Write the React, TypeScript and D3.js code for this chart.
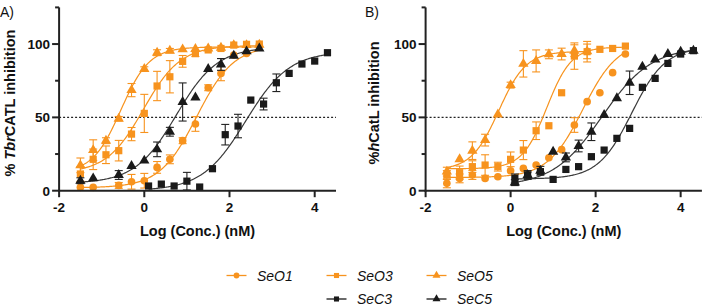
import React from "react";
import * as d3 from "d3";

const ORANGE = "#F7931E";
const BLACK = "#1a1a1a";

// concentrations (log nM)
const xOrange = [-1.5, -1.2, -0.9, -0.6, -0.3, 0, 0.3, 0.6, 0.9, 1.2, 1.5, 1.8, 2.1, 2.4, 2.7];
const xOrangeGap = [-1.5, -1.2, -0.6, -0.3, 0, 0.3, 0.6, 0.9, 1.2, 1.5, 1.8, 2.1, 2.4, 2.7];
const xOrangeShort = [-1.5, -1.2, -0.9, -0.6, -0.3, 0, 0.3, 0.6, 0.9, 1.2, 1.5, 1.8];
const xBlack = [0.1, 0.4, 0.7, 1.0, 1.3, 1.6, 1.9, 2.2, 2.5, 2.8, 3.1, 3.4, 3.7, 4.0, 4.3];

// Panel A (TbrCATL)
const aSeO1 = [2.3, 2.3, 3.6, 6.1, 6.8, 15.9, 21.4, 34.1, 45.5, 70.2, 80, 92.5, 93.6, 99.3];
const aSeO1Err = [1, 1, 2, 5, 5, 4, 3, 2, 5, 2, 5, 1, 1, 1];
const aSeO3 = [11.4, 21.4, 24.5, 27.3, 38.6, 52.7, 71.4, 77.7, 88.2, 93.5, 96, 97, 99.3, 99.8, 100];
const aSeO3Err = [5, 7, 6, 7, 4.5, 13, 10, 11, 4, 2, 1, 1, 1, 1, 1];
const aSeO5 = [17.3, 27.7, 34.1, 49.1, 68.6, 83, 94.1, 95.5, 96.4, 96.6, 97, 97.5, 99.3, 99.3, 99.5];
const aSeO5Err = [5, 7, 2, 1.5, 4.5, 1.5, 2, 1.5, 1, 1, 1, 1, 1, 1, 1];
const aSeC3 = [3.2, 4.5, 3.2, 6.5, 2.5, 15, 38.2, 44.1, 61.8, 59.1, 73.6, 80, 86.4, 88.4, 94.1];
const aSeC3Err = [0.5, 0.5, 0.5, 6, 0.5, 0.5, 7, 8, 0.5, 4, 6, 1, 1, 1, 1];
const aSeC5 = [6.8, 8.4, 10.7, 16.8, 20.5, 28.2, 40.2, 60.5, 63.6, 83, 86.1, 92, 95, 97];
const aSeC5Err = [2, 1, 3, 1, 1, 5, 3, 13, 1, 1, 4, 1, 1, 1];

// Panel B (hCatL)
const bSeO1 = [5, 8.4, 10.7, 8.4, 9.5, 13.6, 15.2, 17.5, 22.5, 28, 44.8, 60.7, 66.8, 80.5, 93.2];
const bSeO1Err = [3, 3, 3, 1, 1, 1, 1, 1, 1, 1, 5, 1, 1, 1, 1];
const bSeO3 = [10.7, 12.3, 16.4, 17.5, 16.4, 21.4, 27.7, 40.9, 44.3, 66.8, 91.8, 94.8, 96.4, 97, 98.6];
const bSeO3Err = [3, 4.5, 4, 7, 3, 5, 6.5, 6, 1, 1, 9, 7, 1, 1, 1];
const bSeO5 = [13, 21.4, 27.3, 34.5, 52, 72, 86.5, 88.5, 93, 93.2, 95.5, 95];
const bSeO5Err = [3, 1, 6, 4, 1, 2, 9, 7.5, 3, 4, 4, 5];
const bSeC3 = [8.4, 10.7, 13, 7.7, 14.5, 16.4, 23.2, 27.7, 35.7, 42.5, 70.5, 76.6, 86.8, 93.2, 95.5];
const bSeC3Err = [3, 2, 1, 1, 1, 1, 1, 1, 1, 1, 1, 1, 1, 1, 1];
const bSeC5 = [5.5, 10.7, 13.6, 26.6, 22.7, 30.5, 40.2, 51.6, 63, 73.6, 84.5, 89.5, 93.2, 94.8, 95.5];
const bSeC5Err = [2, 3, 3, 1, 3, 4, 6, 1, 1, 8, 1, 1, 1, 1, 1];

// 4PL fit parameters [bottom, top, logIC50, hill]
const aFitSeO1 = [2, 99, 1.23, 1.0];
const aFitSeO3 = [12, 99, -0.02, 1.0];
const aFitSeO5 = [12, 98, -0.55, 1.3];
const aFitSeC3 = [0, 95, 2.38, 0.85];
const aFitSeC5 = [5, 98, 0.75, 0.9];
const bFitSeO1 = [9, 102, 1.7, 1.05];
const bFitSeO3 = [15, 98, 0.85, 1.5];
const bFitSeO5 = [14, 95, -0.28, 1.35];
const bFitSeC3 = [8, 98, 2.85, 1.1];
const bFitSeC5 = [3, 98, 2.15, 0.75];

const xTicks = [-2, 0, 2, 4];
const yTicksMajor = [0, 50, 100];
const yTicksMinor = [25, 75, 125];

const legendNames = ["SeO1", "SeO3", "SeO5", "SeC3", "SeC5"];

type Shape = "circle" | "square" | "triangle";
type Series = { name: string; x: number[]; y: number[]; err: number[]; fit: number[]; color: string; shape: Shape };

const panelA: Series[] = [
  { name: "SeO1", x: xOrangeGap, y: aSeO1, err: aSeO1Err, fit: aFitSeO1, color: ORANGE, shape: "circle" },
  { name: "SeO3", x: xOrange, y: aSeO3, err: aSeO3Err, fit: aFitSeO3, color: ORANGE, shape: "square" },
  { name: "SeO5", x: xOrange, y: aSeO5, err: aSeO5Err, fit: aFitSeO5, color: ORANGE, shape: "triangle" },
  { name: "SeC3", x: xBlack, y: aSeC3, err: aSeC3Err, fit: aFitSeC3, color: BLACK, shape: "square" },
  { name: "SeC5", x: xOrangeGap, y: aSeC5, err: aSeC5Err, fit: aFitSeC5, color: BLACK, shape: "triangle" },
];
const panelB: Series[] = [
  { name: "SeO1", x: xOrange, y: bSeO1, err: bSeO1Err, fit: bFitSeO1, color: ORANGE, shape: "circle" },
  { name: "SeO3", x: xOrange, y: bSeO3, err: bSeO3Err, fit: bFitSeO3, color: ORANGE, shape: "square" },
  { name: "SeO5", x: xOrangeShort, y: bSeO5, err: bSeO5Err, fit: bFitSeO5, color: ORANGE, shape: "triangle" },
  { name: "SeC3", x: xBlack, y: bSeC3, err: bSeC3Err, fit: bFitSeC3, color: BLACK, shape: "square" },
  { name: "SeC5", x: xBlack, y: bSeC5, err: bSeC5Err, fit: bFitSeC5, color: BLACK, shape: "triangle" },
];

const FONT = "'Liberation Sans', Arial, Helvetica, sans-serif";

const symbolPath = (shape: Shape, size: number) => {
  const t = shape === "circle" ? d3.symbolCircle : shape === "square" ? d3.symbolSquare : d3.symbolTriangle;
  return d3.symbol().type(t).size(size)() as string;
};

const fourPL = (p: number[], x: number) => p[0] + (p[1] - p[0]) / (1 + Math.pow(10, (p[2] - x) * p[3]));

function Panel({ series, x0, x1, letter, letterX, labelX, yLabel }: any) {
  const xs = d3.scaleLinear().domain([-2, 4.5]).range([x0, x1]);
  const ys = d3.scaleLinear().domain([0, 125]).range([190.7, 7.4]);
  const line = d3.line<[number, number]>().x((d) => xs(d[0])).y((d) => ys(d[1]));
  const ax = xs(-2);
  const y0 = ys(0);
  return (
    <g fontFamily={FONT}>
      <text x={letterX} y={17} fontSize={14} fill="#111">{letter}</text>
      <line x1={ax} x2={xs(4.5)} y1={ys(50)} y2={ys(50)} stroke="#222" strokeWidth={1.4} strokeDasharray="2,2" />
      {series.map((s: Series) => {
        const lo = d3.min(s.x) as number;
        const hi = d3.max(s.x) as number;
        const pts: [number, number][] = d3.range(0, 201).map((i) => {
          const xv = lo + ((hi - lo) * i) / 200;
          return [xv, fourPL(s.fit, xv)];
        });
        return <path key={"c" + s.name} d={line(pts) as string} fill="none" stroke={s.color === BLACK ? "#3a3a3a" : s.color} strokeWidth={1.2} />;
      })}
      {series.map((s: Series) => (
        <g key={"p" + s.name}>
          {s.x.map((xv, i) => {
            const cx = xs(xv);
            const top = ys(s.y[i] + s.err[i]);
            const bot = ys(Math.max(0, s.y[i] - s.err[i]));
            const col = s.color === BLACK ? "#222" : s.color;
            return (
              <g key={i}>
                {s.err[i] >= 1.5 && (
                  <g stroke={col} strokeWidth={1.1}>
                    <line x1={cx} x2={cx} y1={top} y2={bot} />
                    <line x1={cx - 4} x2={cx + 4} y1={top} y2={top} />
                    <line x1={cx - 4} x2={cx + 4} y1={bot} y2={bot} />
                  </g>
                )}
                <path
                  d={symbolPath(s.shape, s.shape === "triangle" ? 46 : s.shape === "square" ? 52 : 46)}
                  transform={`translate(${cx},${ys(s.y[i])})`}
                  fill={s.color}
                />
              </g>
            );
          })}
        </g>
      ))}
      <line x1={ax} x2={ax} y1={y0 + 1} y2={ys(125)} stroke="#222" strokeWidth={2} />
      <line x1={ax - 1} x2={xs(4.5)} y1={y0} y2={y0} stroke="#222" strokeWidth={2} />
      {yTicksMajor.map((t) => (
        <g key={"ym" + t}>
          <line x1={ax - 7} x2={ax} y1={ys(t)} y2={ys(t)} stroke="#222" strokeWidth={2} />
          <text x={ax - 9} y={ys(t)} dy="0.36em" textAnchor="end" fontSize={13.5} fontWeight="bold" fill="#111">{t}</text>
        </g>
      ))}
      {yTicksMinor.map((t) => (
        <line key={"yn" + t} x1={ax - 4} x2={ax} y1={ys(t)} y2={ys(t)} stroke="#222" strokeWidth={2} />
      ))}
      {xTicks.map((t) => (
        <g key={"x" + t}>
          <line x1={xs(t)} x2={xs(t)} y1={y0} y2={y0 + 6.5} stroke="#222" strokeWidth={2} />
          <text x={xs(t)} y={212} textAnchor="middle" fontSize={13.5} fontWeight="bold" fill="#111">{t < 0 ? "-" + Math.abs(t) : t}</text>
        </g>
      ))}
      <text x={(ax + xs(4.5)) / 2} y={236} textAnchor="middle" fontSize={14.5} fontWeight="bold" fill="#111">Log (Conc.) (nM)</text>
      <text transform={`translate(${labelX},103) rotate(-90)`} textAnchor="middle" fontSize={14.5} fontWeight="bold" fill="#111" dy="0.35em">
        {yLabel}
      </text>
    </g>
  );
}

const legendPos: [number, number][] = [
  [226.5, 275.5],
  [326.5, 275.5],
  [426.5, 275.5],
  [326.5, 299],
  [426.5, 299],
];
const legendColors = [ORANGE, ORANGE, ORANGE, BLACK, BLACK];
const legendShapes: Shape[] = ["circle", "square", "triangle", "square", "triangle"];

export default function App() {
  return (
    <svg width={703} height={306} style={{ position: "absolute", left: 0, top: 0, background: "#fff" }}>
      <rect width={703} height={306} fill="#fff" />
      <Panel
        series={panelA}
        x0={59.1}
        x1={336}
        letter="A)"
        letterX={0}
        labelX={10}
        yLabel={
          <>
            <tspan>% </tspan>
            <tspan fontStyle="italic">Tbr</tspan>
            <tspan>CATL inhibition</tspan>
          </>
        }
      />
      <Panel
        series={panelB}
        x0={425.6}
        x1={701.9}
        letter="B)"
        letterX={365}
        labelX={374}
        yLabel={
          <>
            <tspan>%</tspan>
            <tspan fontStyle="italic">h</tspan>
            <tspan>CatL inhibition</tspan>
          </>
        }
      />
      <g fontFamily={FONT}>
        {legendNames.map((n, i) => {
          const [lx, ly] = legendPos[i];
          return (
            <g key={n}>
              <line x1={lx} x2={lx + 20} y1={ly} y2={ly} stroke={legendColors[i]} strokeWidth={1.3} />
              <path d={symbolPath(legendShapes[i], legendShapes[i] === "triangle" ? 28 : 26)} transform={`translate(${lx + 10},${ly})`} fill={legendColors[i]} />
              <text x={lx + 30.5} y={ly} dy="0.36em" fontSize={14} fontStyle="italic" fill="#111">{n}</text>
            </g>
          );
        })}
      </g>
    </svg>
  );
}
